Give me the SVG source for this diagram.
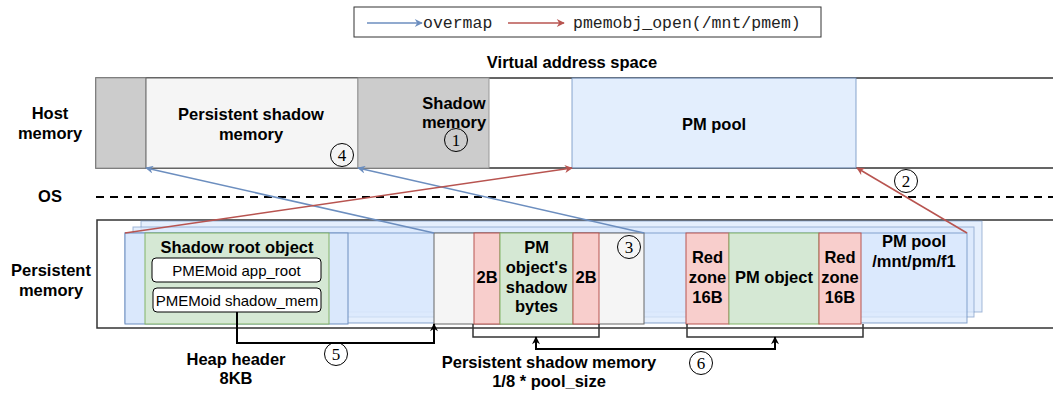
<svg xmlns="http://www.w3.org/2000/svg" width="1053" height="396" viewBox="0 0 1053 396">
<defs>
<style>
text{font-family:"Liberation Sans",Arial,sans-serif;fill:#000}
.b{font-weight:bold;font-size:16.5px}
.r{font-size:15px}
.c{text-anchor:middle}
.mono{font-family:"Liberation Mono","Courier New",monospace;font-size:16.5px;fill:#222}
.num{font-family:"Liberation Serif","Times New Roman",serif;font-size:17px;text-anchor:middle}
.circ{fill:none;stroke:#000;stroke-width:1}
.blue{fill:#dae8fc;stroke:#6c8ebf;stroke-width:1}
.green{fill:#d5e8d4;stroke:#82b366;stroke-width:1}
.red{fill:#f8cecc;stroke:#b85450;stroke-width:1}
.lgrey{fill:#f5f5f5;stroke:#666;stroke-width:1}
.dgrey{fill:#cccccc;stroke:#999;stroke-width:1}
.ab{stroke:#6c8ebf;stroke-width:1.5;fill:none}
.ar{stroke:#b85450;stroke-width:1.5;fill:none}
.ak{stroke:#000;stroke-width:2;fill:none}
.br{stroke:#333;stroke-width:1.5;fill:none}
</style>
<marker id="mb" viewBox="0 0 10 10" refX="9" refY="5" markerWidth="10" markerHeight="8" markerUnits="userSpaceOnUse" orient="auto"><path d="M0,0 L10,5 L0,10 L3,5 z" fill="#6c8ebf"/></marker>
<marker id="mr" viewBox="0 0 10 10" refX="9" refY="5" markerWidth="10" markerHeight="8" markerUnits="userSpaceOnUse" orient="auto"><path d="M0,0 L10,5 L0,10 L3,5 z" fill="#b85450"/></marker>
<marker id="mk" viewBox="0 0 10 10" refX="9" refY="5" markerWidth="9" markerHeight="8" markerUnits="userSpaceOnUse" orient="auto-start-reverse"><path d="M0,0 L10,5 L0,10 L3,5 z" fill="#000"/></marker>
</defs>
<rect x="0" y="0" width="1053" height="396" fill="#fff"/>

<g id="legend">
<rect x="354" y="7" width="467" height="30" fill="#fff" stroke="#333" stroke-width="1"/>
<line x1="367" y1="23" x2="422" y2="23" class="ab" marker-end="url(#mb)"/>
<text x="423" y="28" class="mono">overmap</text>
<line x1="508" y1="23" x2="564" y2="23" class="ar" marker-end="url(#mr)"/>
<text x="573" y="28" class="mono">pmemobj_open(/mnt/pmem)</text>
</g>

<g id="labels">
<text x="572" y="68" class="b c">Virtual address space</text>
<text x="50" y="119" class="b c">Host</text>
<text x="50" y="139" class="b c">memory</text>
<text x="50" y="202" class="b c">OS</text>
<text x="51" y="276" class="b c">Persistent</text>
<text x="51" y="296" class="b c">memory</text>
<text x="993" y="322" class="b" style="font-size:16px">DAX FS</text>
</g>

<g id="host-memory">
<rect x="96" y="78" width="1000" height="90" fill="#fff" stroke="#333" stroke-width="1.5"/>
<rect x="96" y="78" width="50" height="90" class="dgrey"/>
</g>
<g id="persistent-shadow-memory-vm">
<rect x="146" y="78" width="212" height="90" class="lgrey" stroke="#bbb"/>
<text x="251" y="120" class="b c">Persistent shadow</text>
<text x="251" y="140" class="b c">memory</text>
</g>
<g id="shadow-memory">
<rect x="358" y="78" width="131" height="90" class="dgrey"/>
<text x="454" y="109" class="b c">Shadow</text>
<text x="454" y="128" class="b c">memory</text>
</g>
<g id="pm-pool-vm">
<rect x="572" y="78" width="284" height="90" class="blue" fill-opacity="0.75" stroke-opacity="0.8"/>
<text x="714" y="130" class="b c">PM pool</text>
</g>

<g id="os-line">
<line x1="96" y1="197" x2="1053" y2="197" stroke="#000" stroke-width="2" stroke-dasharray="8 6"/>
</g>

<g id="persistent-memory">
<rect x="97" y="220" width="1000" height="108" fill="#fff" stroke="#333" stroke-width="1.5"/>
<rect x="141" y="221" width="841" height="91" class="blue" fill-opacity="0.7" stroke-opacity="0.6"/>
<rect x="133" y="227" width="841" height="90" class="blue" fill-opacity="0.7" stroke-opacity="0.6"/>
<rect x="125" y="233" width="842" height="90" class="blue" fill-opacity="0.7" stroke-opacity="0.8"/>
</g>
<g id="pool-file-label">
<text x="914" y="247" class="b c">PM pool</text>
<text x="914" y="267" class="b c">/mnt/pm/f1</text>
</g>

<g id="heap-header">
<rect x="125" y="233" width="223" height="91" class="blue"/>
</g>
<g id="shadow-root-object">
<rect x="145" y="233" width="184" height="91" class="green"/>
<text x="237" y="253" class="b c">Shadow root object</text>
</g>
<g id="app-root">
<rect x="152" y="258" width="169" height="24" rx="4" fill="#fff" stroke="#000" stroke-width="1"/>
<text x="236.5" y="276" class="r c">PMEMoid app_root</text>
</g>
<g id="shadow-mem">
<rect x="153" y="288" width="168" height="24" rx="4" fill="#fff" stroke="#000" stroke-width="1"/>
<text x="237" y="306" class="r c">PMEMoid shadow_mem</text>
</g>

<g id="persistent-shadow-memory-pm">
<rect x="434" y="233" width="210" height="91" class="lgrey"/>
</g>
<g id="shadow-redzone-left">
<rect x="474" y="233" width="26" height="91" class="red"/>
<text x="487" y="283" class="b c">2B</text>
</g>
<g id="shadow-bytes">
<rect x="500" y="233" width="73" height="91" class="green"/>
<text x="536.5" y="253" class="b c">PM</text>
<text x="536.5" y="273" class="b c">object's</text>
<text x="536.5" y="293" class="b c">shadow</text>
<text x="536.5" y="312" class="b c">bytes</text>
</g>
<g id="shadow-redzone-right">
<rect x="573" y="233" width="26" height="91" class="red"/>
<text x="586" y="283" class="b c">2B</text>
</g>

<g id="redzone-left">
<rect x="686" y="233" width="43" height="91" class="red"/>
<text x="707.5" y="263" class="b c">Red</text>
<text x="707.5" y="283" class="b c">zone</text>
<text x="707.5" y="303" class="b c">16B</text>
</g>
<g id="pm-object">
<rect x="729" y="233" width="90" height="91" class="green"/>
<text x="774" y="283" class="b c">PM object</text>
</g>
<g id="redzone-right">
<rect x="819" y="233" width="42" height="91" class="red"/>
<text x="840" y="263" class="b c">Red</text>
<text x="840" y="283" class="b c">zone</text>
<text x="840" y="303" class="b c">16B</text>
</g>

<g id="bottom-labels">
<text x="236" y="365" class="b c">Heap header</text>
<text x="236" y="384" class="b c">8KB</text>
<text x="549" y="368" class="b c">Persistent shadow memory</text>
<text x="549" y="387" class="b c">1/8 * pool_size</text>
</g>

<g id="connectors">
<line x1="434" y1="233" x2="146" y2="168" class="ab" marker-end="url(#mb)"/>
<line x1="644" y1="233" x2="358" y2="168" class="ab" marker-end="url(#mb)"/>
<line x1="125" y1="233" x2="572" y2="168" class="ar" marker-end="url(#mr)"/>
<line x1="967" y1="233" x2="857" y2="168" class="ar" marker-end="url(#mr)"/>
<path d="M237,312 V343 H434 V324" class="ak" marker-end="url(#mk)"/>
<path d="M473,324 V337 H599 V324" class="br"/>
<path d="M687,324 V337 H863 V324" class="br"/>
<path d="M536,337 V349 H775 V337" class="ak" marker-start="url(#mk)" marker-end="url(#mk)"/>
</g>

<g id="step-markers">
<circle cx="456" cy="140" r="11.5" class="circ"/><text x="456" y="146" class="num">1</text>
<circle cx="906" cy="181" r="11.5" class="circ"/><text x="906" y="187" class="num">2</text>
<circle cx="629" cy="247" r="11.5" class="circ"/><text x="629" y="253" class="num">3</text>
<circle cx="342" cy="155" r="11.5" class="circ"/><text x="342" y="161" class="num">4</text>
<circle cx="336" cy="354" r="11.5" class="circ"/><text x="336" y="360" class="num">5</text>
<circle cx="701" cy="363" r="11.5" class="circ"/><text x="701" y="369" class="num">6</text>
</g>
</svg>
